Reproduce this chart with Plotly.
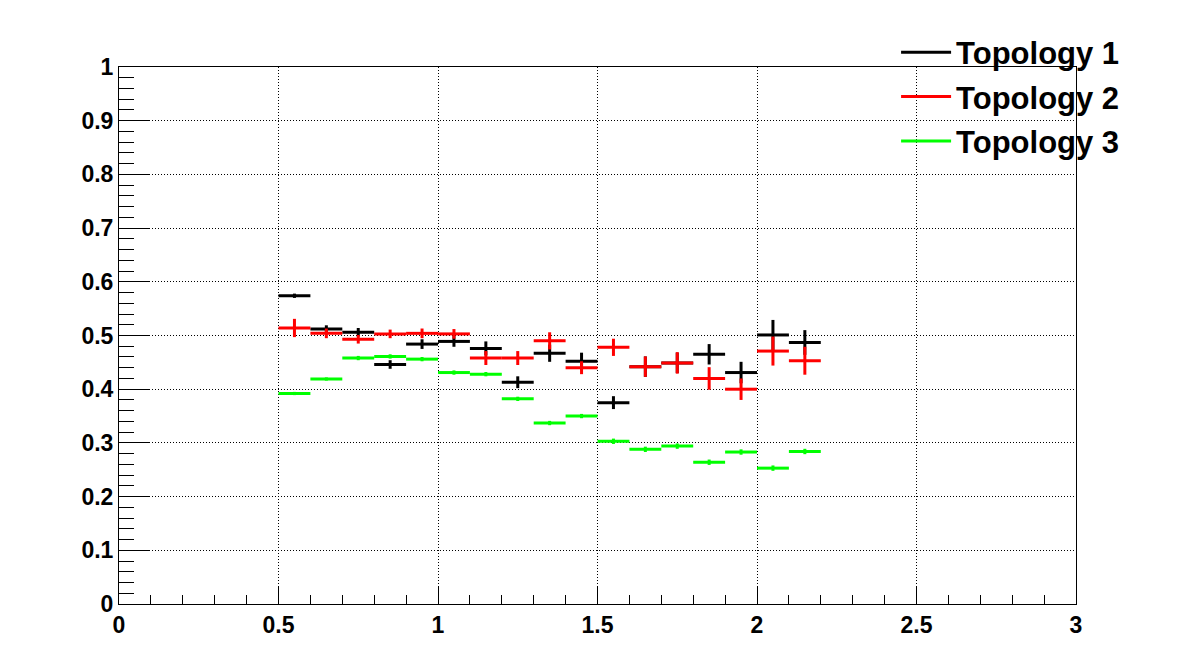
import plotly.graph_objects as go

bin_centers = [0.55, 0.65, 0.75, 0.85, 0.95, 1.05, 1.15, 1.25, 1.35, 1.45,
               1.55, 1.65, 1.75, 1.85, 1.95, 2.05, 2.15]
bin_half_width = [0.05] * 17

topo1_vals = [0.574, 0.512, 0.506, 0.446, 0.484, 0.489, 0.476, 0.413, 0.467, 0.452,
              0.375, 0.442, 0.449, 0.465, 0.431, 0.501, 0.487]
topo1_errs = [0.004, 0.007, 0.008, 0.008, 0.009, 0.010, 0.013, 0.011, 0.016, 0.016,
              0.012, 0.019, 0.019, 0.019, 0.020, 0.028, 0.023]

topo2_vals = [0.514, 0.504, 0.493, 0.503, 0.504, 0.503, 0.458, 0.458, 0.490, 0.440,
              0.478, 0.442, 0.449, 0.420, 0.400, 0.471, 0.453]
topo2_errs = [0.017, 0.009, 0.008, 0.008, 0.009, 0.009, 0.013, 0.013, 0.016, 0.012,
              0.016, 0.019, 0.020, 0.021, 0.020, 0.027, 0.026]

topo3_vals = [0.392, 0.419, 0.458, 0.461, 0.456, 0.431, 0.428, 0.382, 0.337, 0.350,
              0.303, 0.288, 0.294, 0.264, 0.283, 0.253, 0.284]
topo3_errs = [0.003, 0.003, 0.004, 0.004, 0.004, 0.004, 0.004, 0.004, 0.004, 0.004,
              0.005, 0.005, 0.005, 0.005, 0.005, 0.005, 0.005]

series_names = ["Topology 1", "Topology 2", "Topology 3"]
series_colors = ["#000000", "#ff0000", "#00ff00"]

FONT = "Liberation Sans, Arial, Helvetica, sans-serif"
GRID_DASH = "1px,2px"

fig = go.Figure()
for name, vals, errs, col in zip(series_names,
                                 [topo1_vals, topo2_vals, topo3_vals],
                                 [topo1_errs, topo2_errs, topo3_errs],
                                 series_colors):
    fig.add_trace(go.Scatter(
        x=bin_centers, y=vals, mode="markers",
        marker=dict(size=1, color=col),
        error_x=dict(type="data", array=bin_half_width, visible=True,
                     width=0, thickness=3, color=col),
        error_y=dict(type="data", array=errs, visible=True,
                     width=0, thickness=3, color=col),
        showlegend=False, hoverinfo="x+y",
    ))

for i, (name, col) in enumerate(zip(series_names, series_colors)):
    fig.add_trace(go.Scatter(
        x=[None], y=[None], mode="lines", name=name,
        line=dict(color=col, width=3), legendgroup=f"g{i}",
    ))

fig.update_layout(
    width=1196, height=672,
    margin=dict(l=111, r=128, t=59, b=76, autoexpand=False),
    paper_bgcolor="white", plot_bgcolor="white",
    font=dict(family=FONT, color="black"),
    legend=dict(
        x=0.812, y=1.077, xanchor="left", yanchor="top",
        bgcolor="rgba(0,0,0,0)", borderwidth=0,
        font=dict(family=FONT, size=31, weight="bold", color="black"),
        tracegroupgap=1, itemwidth=50,
    ),
)

fig.update_xaxes(
    range=[0, 3], tickmode="array",
    tickvals=[0, 0.5, 1, 1.5, 2, 2.5, 3],
    ticktext=["0", "0.5", "1", "1.5", "2", "2.5", "3"],
    ticks="inside", ticklen=17, tickwidth=1, tickcolor="black",
    showline=True, linecolor="black", linewidth=1, mirror=True,
    showgrid=True, gridcolor="black", gridwidth=1, griddash=GRID_DASH,
    zeroline=False,
    tickfont=dict(family=FONT, size=23, weight="bold", color="black"),
    minor=dict(dtick=0.1, tick0=0, ticks="inside", ticklen=9, tickwidth=1,
               tickcolor="black", showgrid=False),
)
fig.update_yaxes(
    range=[0, 1], tickmode="array",
    tickvals=[0, 0.1, 0.2, 0.3, 0.4, 0.5, 0.6, 0.7, 0.8, 0.9, 1],
    ticktext=["0", "0.1", "0.2", "0.3", "0.4", "0.5", "0.6", "0.7", "0.8", "0.9", "1"],
    ticks="inside", ticklen=30, tickwidth=1, tickcolor="black",
    showline=True, linecolor="black", linewidth=1, mirror=True,
    showgrid=True, gridcolor="black", gridwidth=1, griddash=GRID_DASH,
    zeroline=False,
    tickfont=dict(family=FONT, size=23, weight="bold", color="black"),
    minor=dict(dtick=0.02, tick0=0, ticks="inside", ticklen=15, tickwidth=1,
               tickcolor="black", showgrid=False),
)

fig.write_html("out.html")
